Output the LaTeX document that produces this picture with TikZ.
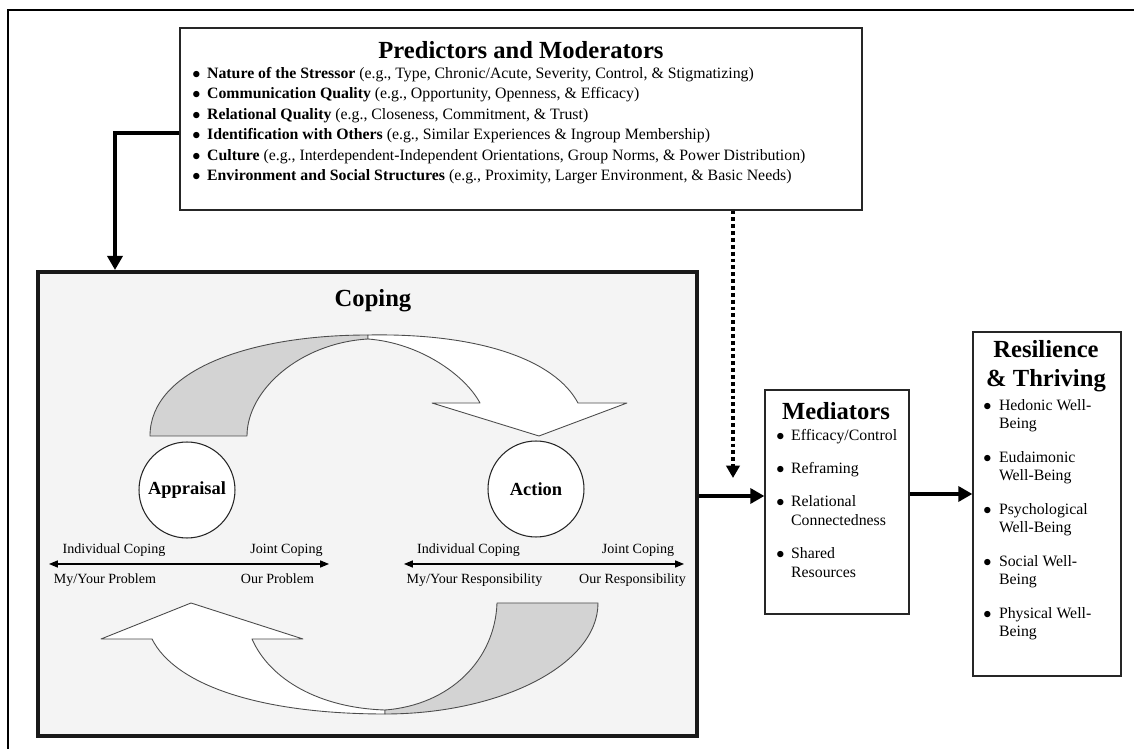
\documentclass[tikz,border=0pt]{standalone}
\usepackage{fontspec}
\setmainfont{Liberation Serif}
\usetikzlibrary{arrows.meta,positioning}
\definecolor{copingfill}{HTML}{F4F4F4}
\definecolor{bandgray}{HTML}{D3D3D3}
\newcommand{\bul}{$\bullet$}

\begin{document}
\begin{tikzpicture}[x=0.02cm,y=-0.02cm,
    box node/.style={draw=black!85,line width=0.7pt,fill=white,inner sep=0pt},
    main node/.style={circle,draw=black!85,line width=0.6pt,fill=white,minimum size=1.92cm,inner sep=0pt,font=\fontsize{10.5}{12}\selectfont\bfseries},
    title node/.style={inner sep=0pt,align=center,font=\fontsize{14}{16.4}\selectfont\bfseries},
    list node/.style={anchor=base west,inner sep=0pt},
    label node/.style={anchor=base,inner sep=0pt,font=\fontsize{8}{9.6}\selectfont},
    big arrow/.style={line width=2.8pt,-{Triangle[length=8pt,width=8.5pt]}},
    dot arrow/.style={line width=2.3pt,dash pattern=on 2.2pt off 1.7pt,-{Triangle[length=7pt,width=7.5pt]}},
    scale arrow/.style={line width=0.6pt,{Triangle[length=5pt,width=4pt]}-{Triangle[length=5pt,width=4pt]}},
    band/.style={draw=black!70,line width=0.5pt,line join=round}]

  \useasboundingbox (0,0) rectangle (1134,749);
  \draw[line width=0.9pt] (8,749) -- (8,10) -- (1134,10);

  \node[draw=black!90,line width=2.3pt,fill=copingfill,minimum width=13.18cm,minimum height=9.28cm,inner sep=0pt] (coping) at (367.5,504) {};
  \node[box node,minimum width=13.64cm,minimum height=3.64cm] (pred) at (521,119) {};
  \node[box node,minimum width=2.88cm,minimum height=4.48cm] (med) at (837,502) {};
  \node[box node,minimum width=2.96cm,minimum height=6.88cm] (res) at (1047,504) {};

  \node[title node] (predtitle) at (521,50) {Predictors and Moderators};
  \node[list node] (predlist) at (192,78.5) {\fontsize{9}{11.6}\selectfont
    \begin{tabular}[t]{@{}l@{\hspace{3.8pt}}l@{}}
    \bul & \textbf{Nature of the Stressor} (e.g., Type, Chronic/Acute, Severity, Control, \& Stigmatizing)\\
    \bul & \textbf{Communication Quality} (e.g., Opportunity, Openness, \& Efficacy)\\
    \bul & \textbf{Relational Quality} (e.g., Closeness, Commitment, \& Trust)\\
    \bul & \textbf{Identification with Others} (e.g., Similar Experiences \& Ingroup Membership)\\
    \bul & \textbf{Culture} (e.g., Interdependent-Independent Orientations, Group Norms, \& Power Distribution)\\
    \bul & \textbf{Environment and Social Structures} (e.g., Proximity, Larger Environment, \& Basic Needs)
    \end{tabular}};

  \draw[band,fill=bandgray] (150,436) .. controls (150,370) and (250,335) .. (368,335) -- (368,339)
    .. controls (300,343) and (247,390) .. (247,436) -- cycle;
  \draw[band,fill=white] (368,335) .. controls (480,333) and (555,360) .. (578,403) -- (627,403) -- (539,436)
    -- (432,403) -- (480,403) .. controls (465,375) and (420,343) .. (368,339) -- cycle;
  \draw[band,fill=white] (385,714) .. controls (260,714) and (175,685) .. (152,639) -- (101,639) -- (191,603)
    -- (303,639) -- (252,639) .. controls (270,680) and (320,708) .. (385,710) -- cycle;
  \draw[band,fill=bandgray] (598,603) .. controls (598,665) and (500,714) .. (385,714) -- (385,710)
    .. controls (450,705) and (495,660) .. (497,603) -- cycle;

  \node[title node] (copingtitle) at (373,301) {Coping};
  \node[main node] (appr) at (187,490) {Appraisal};
  \node[main node] (act) at (536,489) {Action};

  \coordinate (pl) at (49,564);
  \coordinate (pr) at (329,564);
  \coordinate (ql) at (404,564);
  \coordinate (qr) at (684,564);
  \draw[scale arrow] (pl) -- (pr);
  \draw[scale arrow] (ql) -- (qr);

  \node[label node] (ic1) at (114,554) {Individual Coping};
  \node[label node] (jc1) at (286.5,554) {Joint Coping};
  \node[label node] (mp1) at (105,584) {My/Your Problem};
  \node[label node] (op1) at (277.5,584) {Our Problem};
  \node[label node] (ic2) at (468.5,554) {Individual Coping};
  \node[label node] (jc2) at (638,554) {Joint Coping};
  \node[label node] (mp2) at (474.5,584) {My/Your Responsibility};
  \node[label node] (op2) at (632.5,584) {Our Responsibility};

  \node[title node] (medtitle) at (836,411) {Mediators};
  \node[list node] (medlist) at (776,441) {\fontsize{9}{10.8}\selectfont
    \begin{tabular}[t]{@{}l@{\hspace{3.8pt}}l@{}}
    \bul & Efficacy/Control\\[7.9pt]
    \bul & Reframing\\[7.9pt]
    \bul & Relational\\
         & Connectedness\\[7.9pt]
    \bul & Shared\\
         & Resources
    \end{tabular}};

  \node[title node] (restitle) at (1046,366) {Resilience\\\& Thriving};
  \node[list node] (reslist) at (983,411) {\fontsize{9}{10.2}\selectfont
    \begin{tabular}[t]{@{}l@{\hspace{4.3pt}}l@{}}
    \bul & Hedonic Well-\\
         & Being\\[9.1pt]
    \bul & Eudaimonic\\
         & Well-Being\\[9.1pt]
    \bul & Psychological\\
         & Well-Being\\[9.1pt]
    \bul & Social Well-\\
         & Being\\[9.1pt]
    \bul & Physical Well-\\
         & Being
    \end{tabular}};

  \coordinate (c1) at (115,133);
  \coordinate (d1) at (733,478);
  \coordinate (m1) at (0,496);
  \coordinate (m2) at (0,494);
  \draw[big arrow,line join=miter] (pred.west |- c1) -| (coping.north -| c1);
  \draw[dot arrow] (pred.south -| d1) -- (d1);
  \path[big arrow] (coping.east |- m1) edge (med.west |- m1)
                   (med.east |- m2) edge (res.west |- m2);

\end{tikzpicture}
\end{document}
